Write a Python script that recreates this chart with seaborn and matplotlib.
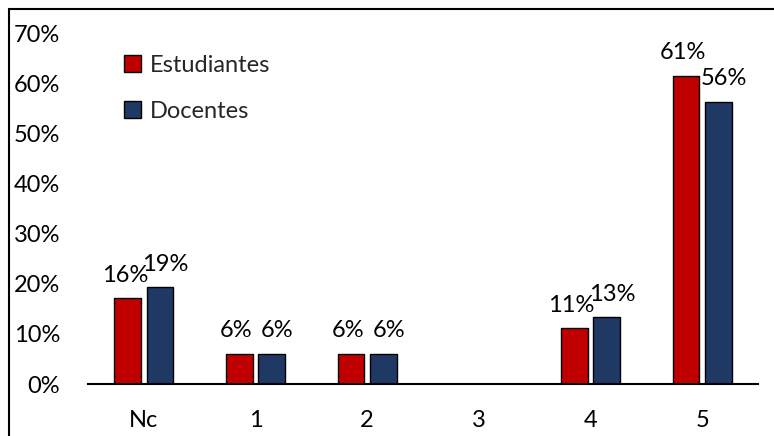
import pandas as pd
import matplotlib
matplotlib.use("Agg")
import matplotlib.pyplot as plt
from matplotlib.patches import Rectangle
import seaborn as sns

# Data (percent)
categorias = ["Nc", "1", "2", "3", "4", "5"]
estudiantes = [17.1, 6, 6, 0, 11.1, 61.5]
docentes = [19.3, 6, 6, 0, 13.3, 56.3]
etiquetas_est = ["16%", "6%", "6%", "", "11%", "61%"]
etiquetas_doc = ["19%", "6%", "6%", "", "13%", "56%"]
grupos = ["Estudiantes", "Docentes"]
colores = ["#C00000", "#1F3864"]
y_ticks = [0, 10, 20, 30, 40, 50, 60, 70]

sns.set_style("white")
plt.rcParams["font.family"] = ["Lato", "DejaVu Sans"]

df = pd.DataFrame({
    "categoria": categorias * 2,
    "valor": estudiantes + docentes,
    "grupo": [grupos[0]] * len(categorias) + [grupos[1]] * len(categorias),
})

fig = plt.figure(figsize=(7.74, 4.36), dpi=100)
ax = fig.add_axes([88 / 774, 1 - 384 / 436, 670 / 774, 351 / 436])

sns.barplot(data=df, x="categoria", y="valor", hue="grupo", order=categorias,
            hue_order=grupos, palette=colores, saturation=1, width=0.58, gap=0.17,
            edgecolor="black", linewidth=1.0, ax=ax)

# data labels
for cont, labels, dx in zip(ax.containers, [etiquetas_est, etiquetas_doc], [-2, 4]):
    for bar, lab in zip(cont, labels):
        if not lab:
            continue
        ax.annotate(lab, (bar.get_x() + bar.get_width() / 2, bar.get_height()),
                    xytext=(dx, 12), textcoords="offset points",
                    ha="center", va="baseline", fontsize=17, color="#000000")

ax.set_ylim(0, 70)
ax.set_yticks(y_ticks)
ax.set_yticklabels([f"{t}%" for t in y_ticks])
ax.set_xlim(-0.5, len(categorias) - 0.5)
ax.set_xlabel("")
ax.set_ylabel("")
ax.tick_params(axis="both", length=0, labelsize=17, colors="black")
ax.tick_params(axis="y", pad=20)
ax.tick_params(axis="x", pad=19)

for side in ["top", "right", "left"]:
    ax.spines[side].set_visible(False)
ax.spines["bottom"].set_color("black")
ax.spines["bottom"].set_linewidth(1.5)

leg = ax.legend(loc="upper left", bbox_to_anchor=(0.04, 0.965), frameon=False,
                fontsize=17, handlelength=0.7, handleheight=0.7,
                handletextpad=0.4, labelspacing=1.05, borderaxespad=0)
for h in leg.legend_handles:
    h.set_edgecolor("black")
    h.set_linewidth(1.0)

# outer frame of the chart area
fig.patches.append(Rectangle((9 / 774, -0.1), 1.0, 1.1 - 9 / 436,
                             transform=fig.transFigure, fill=False,
                             edgecolor="black", linewidth=1.5, clip_on=False))

fig.savefig("out.png", dpi=100)
